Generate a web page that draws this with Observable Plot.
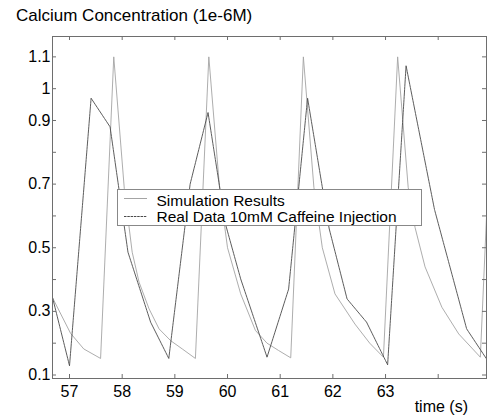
<!DOCTYPE html>
<html>
<head>
<meta charset="utf-8">
<script src="https://cdn.jsdelivr.net/npm/d3@7"></script>
<script src="https://cdn.jsdelivr.net/npm/@observablehq/plot@0.6"></script>
<style>
  html, body { margin: 0; padding: 0; background: #fff; }
  #wrap { position: relative; width: 488px; height: 420px; font-family: "Liberation Sans", Arial, sans-serif; }
  #title { position: absolute; left: 16px; top: 6.5px; font-size: 17px; line-height: 1; color: #000; white-space: nowrap; }
  #legend { position: absolute; left: 117px; top: 189px; }
</style>
</head>
<body>
<div id="wrap">
  <div id="chart"></div>
  <div id="title">Calcium Concentration (1e-6M)</div>
  <svg id="legend" width="305" height="37"></svg>
</div>
<script>
// ---- data ----
const simTime = [56.68, 57.02, 57.27, 57.59, 57.84, 58.04, 58.19, 58.32, 58.51, 58.70, 58.92, 59.14, 59.39,
                 59.645, 59.85, 60.00, 60.25, 60.53, 60.75, 60.97, 61.20,
                 61.44, 61.64, 61.80, 62.04, 62.42, 62.70, 62.96,
                 63.23, 63.43, 63.56, 63.75, 64.07, 64.39, 64.80, 65.05];
const simCa   = [0.342, 0.231, 0.182, 0.152, 1.10, 0.686, 0.486, 0.392, 0.308, 0.245, 0.208, 0.182, 0.152,
                 1.10, 0.686, 0.50, 0.355, 0.240, 0.200, 0.177, 0.154,
                 1.10, 0.690, 0.500, 0.355, 0.260, 0.200, 0.156,
                 1.10, 0.690, 0.564, 0.440, 0.313, 0.229, 0.156, 1.10];

const realTime = [56.68, 57.00, 57.41, 57.77, 58.11, 58.54, 58.885, 59.29, 59.63, 59.96, 60.25, 60.75,
                  61.16, 61.52, 61.93, 62.27, 62.64, 63.04, 63.39, 63.93, 64.54, 64.92];
const realCa   = [0.342, 0.129, 0.970, 0.880, 0.486, 0.266, 0.152, 0.700, 0.925, 0.575, 0.402, 0.156,
                  0.370, 0.970, 0.560, 0.339, 0.266, 0.132, 1.072, 0.620, 0.245, 0.150];

const xTickValues = [57, 58, 59, 60, 61, 62, 63, 64];
const xTickLabels = [57, 58, 59, 60, 61, 62, 63];
const yTickValues = [0.1, 0.2, 0.3, 0.4, 0.5, 0.6, 0.7, 0.8, 0.9, 1.0, 1.1];
const yTickLabels = [0.1, 0.3, 0.5, 0.7, 0.9, 1, 1.1];
const seriesNames = ["Simulation Results", "Real Data 10mM Caffeine Injection"];

// ---- layout ----
const W = 488, H = 420, mL = 52, mR = 2, mT = 36, mB = 42;
const frameW = W - mL - mR, frameH = H - mT - mB;
const tick = 4;
const axisColor = "#6e6e6e";
const simColor = "#a4a4a4", realColor = "#4a4a4a", realDash = "2.5,0.8";

const sim = simTime.map((t, i) => ({t, v: simCa[i]}));
const real = realTime.map((t, i) => ({t, v: realCa[i]}));

const chart = Plot.plot({
  width: W, height: H,
  marginLeft: mL, marginRight: mR, marginTop: mT, marginBottom: mB,
  style: {fontFamily: "'Liberation Sans', Arial, sans-serif", fontSize: "16px", background: "#fff", color: "#000"},
  x: {domain: [56.677, 64.917]},
  y: {domain: [0.089, 1.164]},
  marks: [
    Plot.line(sim, {x: "t", y: "v", stroke: simColor, strokeWidth: 0.9, clip: true}),
    Plot.line(real, {x: "t", y: "v", stroke: realColor, strokeWidth: 0.9, strokeDasharray: realDash, clip: true}),
    Plot.gridX(xTickValues, {insetTop: frameH - tick, stroke: axisColor, strokeOpacity: 1}),
    Plot.gridX(xTickValues, {insetBottom: frameH - tick, stroke: axisColor, strokeOpacity: 1}),
    Plot.gridY(yTickValues, {insetRight: frameW - tick, stroke: axisColor, strokeOpacity: 1}),
    Plot.gridY(yTickValues, {insetLeft: frameW - tick, stroke: axisColor, strokeOpacity: 1}),
    Plot.frame({stroke: axisColor}),
    Plot.axisX(xTickLabels, {tickSize: 0, tickPadding: 7, label: null, fontSize: 16, tickFormat: d => String(d)}),
    Plot.axisY(yTickLabels, {tickSize: 0, tickPadding: 2, label: null, fontSize: 16, tickFormat: d => String(d)}),
    Plot.text(["time (s)"], {frameAnchor: "bottom-right", dx: -18.5, dy: 33, textAnchor: "end", fontSize: 16})
  ]
});
document.getElementById("chart").appendChild(chart);

// ---- legend ----
const leg = d3.select("#legend");
leg.append("rect").attr("x", 0.5).attr("y", 0.5).attr("width", 304).attr("height", 36)
  .attr("fill", "#fff").attr("stroke", "#888");
const rows = [
  {name: seriesNames[0], stroke: simColor, dash: null, ly: 9.5, ty: 17},
  {name: seriesNames[1], stroke: realColor, dash: realDash, ly: 27.5, ty: 32.7}
];
rows.forEach(r => {
  leg.append("line").attr("x1", 7).attr("x2", 30).attr("y1", r.ly).attr("y2", r.ly)
    .attr("stroke", r.stroke).attr("stroke-width", 1).attr("stroke-dasharray", r.dash);
  leg.append("text").attr("x", 39.5).attr("y", r.ty).text(r.name)
    .attr("font-family", "'Liberation Sans', Arial, sans-serif").attr("font-size", 15.5).attr("fill", "#000");
});
</script>
</body>
</html>
